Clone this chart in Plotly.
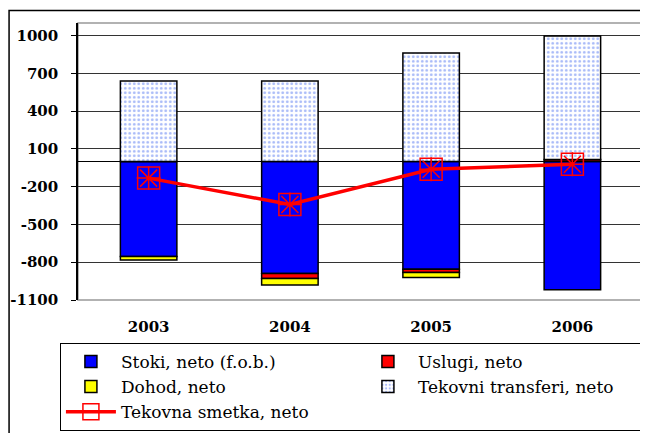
import plotly.graph_objects as go

years = ["2003", "2004", "2005", "2006"]
stoki = [-755, -890, -855, -1018]
uslugi = [0, -40, -27, 15]
dohod = [-28, -50, -40, 0]
transferi = [640, 640, 861, 982]
tekovna = [-132, -342, -62, -22]
yticks = [-1100, -800, -500, -200, 100, 400, 700, 1000]

serif = "DejaVu Serif"
fig = go.Figure()
outline = dict(color="black", width=1.5)
fig.add_trace(go.Bar(x=years, y=stoki, name="Stoki, neto (f.o.b.)",
                     marker=dict(color="#0000ff", line=outline)))
fig.add_trace(go.Bar(x=years, y=uslugi, name="Uslugi, neto",
                     marker=dict(color="#ff0000", line=outline)))
fig.add_trace(go.Bar(x=years, y=dohod, name="Dohod, neto",
                     marker=dict(color="#ffff00", line=outline)))
fig.add_trace(go.Bar(x=years, y=transferi, name="Tekovni transferi, neto",
                     marker=dict(color="white", line=outline,
                                 pattern=dict(shape=".", fgcolor="#4f73f0", bgcolor="white",
                                              size=4.5, solidity=0.3))))
fig.add_trace(go.Scatter(x=years, y=tekovna, name="Tekovna smetka, neto", mode="lines+markers",
                         line=dict(color="#ff0000", width=3.5),
                         marker=dict(symbol="square-open", size=22, color="#ff0000",
                                     line=dict(color="#ff0000", width=1.5))))
fig.add_trace(go.Scatter(x=years, y=tekovna, mode="markers", showlegend=False,
                         marker=dict(symbol="asterisk-open", size=20, color="#ff0000",
                                     line=dict(color="#ff0000", width=1.5))))

fig.update_layout(
    width=640, height=425,
    margin=dict(l=70, r=5, t=15, b=133, autoexpand=False),
    paper_bgcolor="white", plot_bgcolor="white",
    barmode="relative", bargap=0.6,
    font=dict(family=serif, color="black"),
    showlegend=True,
    legend=dict(orientation="h", x=-0.032, y=-0.155, xanchor="left", yanchor="top",
                bordercolor="black", borderwidth=1, bgcolor="white",
                font=dict(family=serif, size=17, color="black"),
                entrywidth=232, entrywidthmode="pixels", itemwidth=50,
                traceorder="normal"),
    xaxis=dict(showgrid=False, showline=False, ticks="",
               tickfont=dict(family=serif, size=15, color="black"),
               ticktext=["<b>%s</b>" % y for y in years], tickvals=years,
               ticklabelstandoff=16),
    yaxis=dict(range=[-1100, 1100], tickvals=yticks, ticktext=["<b>%d</b>" % v for v in yticks],
               showgrid=True, gridcolor="#333333", gridwidth=1,
               zeroline=True, zerolinecolor="black", zerolinewidth=1,
               showline=True, linecolor="black", linewidth=1.5,
               ticks="outside", ticklen=5, tickcolor="black",
               tickfont=dict(family=serif, size=15, color="black"),
               ticklabelstandoff=10),
    shapes=[
        dict(type="rect", xref="paper", yref="paper", x0=0, x1=1, y0=0, y1=1,
             line=dict(color="#999999", width=1.5), layer="below"),
        dict(type="rect", xref="paper", yref="paper", x0=-0.122, x1=1.0035, y0=-0.52, y1=1.045,
             line=dict(color="black", width=1.5)),
    ],
)
fig.write_html("out.html")
